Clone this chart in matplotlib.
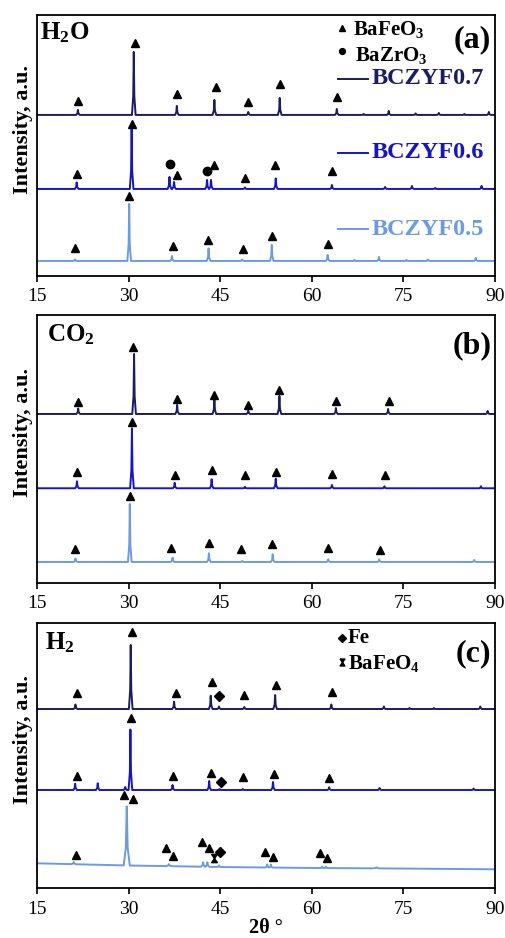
import matplotlib
matplotlib.use("Agg")
import matplotlib.pyplot as plt
import numpy as np
from matplotlib.path import Path

plt.rcParams['font.family'] = ['Liberation Serif', 'DejaVu Serif']
plt.rcParams['mathtext.fontset'] = 'custom'
plt.rcParams['mathtext.rm'] = 'Liberation Serif:bold'
plt.rcParams['mathtext.it'] = 'Liberation Serif:bold:italic'
plt.rcParams['mathtext.bf'] = 'Liberation Serif:bold'

# colours of the three samples
c07 = '#1b1b66'
c06 = '#1414cc'
c05 = '#6b9be6'

# ---- peak lists (2theta, intensity in a.u.) ----
# (a) H2O
h2o_07_pos = [21.7, 30.85, 37.9, 44.05, 49.6, 54.75, 64.1, 68.5, 72.6, 77.0, 80.8, 85.0, 89.0]
h2o_07_int = [5, 63, 9, 15, 3, 17, 6, 1, 4, 1.5, 2, 1, 3]
h2o_06_pos = [21.5, 30.5, 36.7, 37.45, 42.85, 43.5, 49.05, 54.1, 63.3, 72.0, 76.4, 80.2, 87.8]
h2o_06_int = [6.5, 60, 12, 7, 9, 9, 1.5, 10.5, 4, 2, 3, 1, 3]
h2o_05_pos = [21.2, 30.1, 37.1, 43.1, 48.6, 53.45, 62.6, 67.0, 71.0, 75.5, 79.0, 86.85]
h2o_05_int = [1.5, 57, 5, 12.5, 1.5, 16, 6, 1, 4, 1, 1.5, 3]

# (b) CO2
co2_07_pos = [21.75, 30.9, 37.95, 44.05, 49.6, 54.7, 63.95, 72.5, 88.8]
co2_07_int = [5.5, 60, 9, 14.5, 3.3, 18, 6, 5, 3]
co2_06_pos = [21.55, 30.55, 37.55, 43.6, 49.05, 54.1, 63.3, 71.9, 87.7]
co2_06_int = [7, 60, 5.5, 9, 1.5, 9.5, 3.3, 2, 2]
co2_05_pos = [21.3, 30.2, 37.2, 43.15, 48.6, 53.6, 62.7, 71.05, 86.6]
co2_05_int = [3.5, 58, 4.3, 8.7, 1, 7.7, 2.7, 2.5, 2]

# (c) H2
h2_07_pos = [21.3, 30.35, 37.45, 43.45, 44.8, 48.95, 54.0, 63.2, 71.8, 76.0, 80.0, 87.6]
h2_07_int = [4.5, 64, 7.3, 13.3, 2.5, 2, 14, 4.5, 2.5, 1, 1, 2.5]
h2_06_pos = [21.25, 24.95, 29.45, 30.3, 37.2, 43.2, 44.9, 48.7, 53.65, 62.85, 71.1, 86.5]
h2_06_int = [6.3, 6.7, 3, 60.5, 5, 9, 1, 1, 8, 2.7, 2, 1.5]
h2_05_pos = [21.0, 29.7, 36.6, 42.2, 42.9, 44.8, 52.7, 53.3, 61.7, 62.3, 70.6]
h2_05_int = [2, 59, 2, 4.5, 4.5, 1.5, 3, 3, 1.5, 1.5, 1]
h2_05_wid = [0.4, 0.5, 0.5, 0.35, 0.35, 0.3, 0.3, 0.3, 0.3, 0.3, 0.6]
h2_05_base_x = [15, 30, 45, 60, 75, 90]
h2_05_base_y = [24.7, 22.5, 21, 20, 19.5, 18.7]

# vertical offsets of the stacked patterns
offs_a = [161, 87, 15]
offs_b = [169, 94.7, 21]
offs_c = [179, 98]

# ---- phase markers (2theta, height) ----
tri_a_x = [21.66, 31.0, 37.93, 44.3, 49.6, 54.77, 64.15,
           21.5, 30.6, 37.93, 44.05, 49.07, 54.0, 63.27,
           21.3, 30.1, 37.2, 43.05, 48.67, 53.45, 62.6]
tri_a_y = [175, 233, 182, 189, 174, 192, 179,
           101.7, 152, 101, 111.3, 98.3, 110.7, 105.3,
           27.7, 80, 30.3, 36, 26.7, 40.3, 32.3]
circ_a_x = [36.78, 42.9]
circ_a_y = [112, 104.7]

tri_b_x = [21.66, 30.8, 37.93, 44.05, 49.6, 54.7, 63.97, 72.6,
           21.55, 30.56, 37.55, 43.6, 49.07, 54.1, 63.27, 72.06,
           21.3, 30.2, 36.97, 43.17, 48.46, 53.5, 62.7, 71.2]
tri_b_y = [180.7, 236.3, 184, 188.3, 178.3, 193, 182.3, 182.3,
           111.3, 161, 108.3, 113, 108, 111, 108.7, 107.7,
           33.7, 87, 35.3, 40.3, 34, 38.7, 34.7, 33]

tri_c_x = [21.6, 30.56, 37.72, 43.66, 48.96, 54.14, 63.3,
           21.6, 30.4, 37.3, 43.54, 48.8, 53.8, 62.9,
           21.4, 29.25, 30.68, 36.2, 37.27, 41.97, 43.17, 52.4, 53.6, 61.35, 62.5]
tri_c_y = [195.3, 255.7, 194.7, 206, 193.3, 203.3, 196,
           112.3, 169.7, 112, 114.7, 111.3, 113.7, 110.3,
           32.7, 92.7, 89, 39.7, 32.3, 45.7, 39.7, 35.7, 31.3, 35.3, 29.7]
dia_c_x = [44.8, 45.1, 44.97]
dia_c_y = [192, 106.3, 36.3]
hour_c_x = [44.03]
hour_c_y = [29.7]

xticks = [15, 30, 45, 60, 75, 90]

hourglass = Path([(-0.7, 1), (0.7, 1), (-0.7, -1), (0.7, -1), (-0.7, 1)])


def build_trace(pos, inten, base, widths=None):
    """Stick-like peak profiles on a flat or drifting baseline."""
    if widths is None:
        widths = [0.3] * len(pos)
    xs = [15.0]
    ys = [0.0]
    for p, h, w in zip(pos, inten, widths):
        xs += [p - w, p - 0.3 * w, p, p + 0.3 * w, p + w]
        ys += [0, 0.3 * h, h, 0.3 * h, 0]
    xs.append(90.0)
    ys.append(0.0)
    xs = np.array(xs)
    ys = np.array(ys)
    if np.ndim(base) == 0:
        return xs, ys + base
    return xs, ys + np.interp(xs, base[0], base[1])


def style_axes(ax, height):
    ax.set_xlim(15, 90)
    ax.set_ylim(0, height)
    ax.set_xticks(xticks)
    ax.set_yticks([])
    ax.tick_params(axis='x', direction='out', length=4, width=1.2, pad=5, labelsize=14)
    for s in ax.spines.values():
        s.set_linewidth(1.3)
    ax.set_ylabel("Intensity, a.u.", fontsize=16, fontweight='bold')
    ax.yaxis.set_label_coords(-0.008, 0.56)


def tri(ax, x, y):
    ax.plot(x, y, linestyle='none', marker='^', ms=6.3, color='black')


fig = plt.figure(figsize=(5.06, 9.38), dpi=100)
ax_a = fig.add_axes([0.0731, 0.7058, 0.9051, 0.2783])
ax_b = fig.add_axes([0.0731, 0.3785, 0.9051, 0.2857])
ax_c = fig.add_axes([0.0731, 0.0533, 0.9051, 0.2825])

lw = 1.4

# (a) H2O
for pos, inten, off, col in [(h2o_07_pos, h2o_07_int, offs_a[0], c07),
                             (h2o_06_pos, h2o_06_int, offs_a[1], c06),
                             (h2o_05_pos, h2o_05_int, offs_a[2], c05)]:
    x, y = build_trace(pos, inten, off)
    ax_a.plot(x, y, color=col, lw=lw)
tri(ax_a, tri_a_x, tri_a_y)
ax_a.plot(circ_a_x, circ_a_y, linestyle='none', marker='o', ms=6, color='black')
style_axes(ax_a, 261)
ax_a.text(0.007, 0.93, "H$_2$O", transform=ax_a.transAxes, fontsize=18,
          fontweight='bold', ha='left', va='center')
ax_a.text(0.992, 0.905, "(a)", transform=ax_a.transAxes, fontsize=23,
          fontweight='bold', ha='right', va='center')
ax_a.plot([0.665], [0.949], transform=ax_a.transAxes, marker='^', ms=5, color='black')
ax_a.text(0.690, 0.943, "BaFeO$_3$", transform=ax_a.transAxes, fontsize=15,
          fontweight='bold', ha='left', va='center')
ax_a.plot([0.665], [0.863], transform=ax_a.transAxes, marker='o', ms=4.2, color='black')
ax_a.text(0.694, 0.845, "BaZrO$_3$", transform=ax_a.transAxes, fontsize=15,
          fontweight='bold', ha='left', va='center')
for ylab, name, col in [(0.755, "BCZYF0.7", c07), (0.472, "BCZYF0.6", c06),
                        (0.179, "BCZYF0.5", c05)]:
    ax_a.plot([0.657, 0.723], [ylab, ylab], transform=ax_a.transAxes, color=col, lw=lw)
    ax_a.text(0.731, ylab, name, transform=ax_a.transAxes, fontsize=17.5,
              fontweight='bold', color=col, ha='left', va='center')

# (b) CO2
for pos, inten, off, col in [(co2_07_pos, co2_07_int, offs_b[0], c07),
                             (co2_06_pos, co2_06_int, offs_b[1], c06),
                             (co2_05_pos, co2_05_int, offs_b[2], c05)]:
    x, y = build_trace(pos, inten, off)
    ax_b.plot(x, y, color=col, lw=lw)
tri(ax_b, tri_b_x, tri_b_y)
style_axes(ax_b, 268)
ax_b.text(0.022, 0.925, "CO$_2$", transform=ax_b.transAxes, fontsize=18,
          fontweight='bold', ha='left', va='center')
ax_b.text(0.992, 0.885, "(b)", transform=ax_b.transAxes, fontsize=23,
          fontweight='bold', ha='right', va='center')

# (c) H2
x, y = build_trace(h2_07_pos, h2_07_int, offs_c[0])
ax_c.plot(x, y, color=c07, lw=lw)
x, y = build_trace(h2_06_pos, h2_06_int, offs_c[1])
ax_c.plot(x, y, color=c06, lw=lw)
x, y = build_trace(h2_05_pos, h2_05_int, (h2_05_base_x, h2_05_base_y), h2_05_wid)
ax_c.plot(x, y, color=c05, lw=lw)
tri(ax_c, tri_c_x, tri_c_y)
ax_c.plot(dia_c_x, dia_c_y, linestyle='none', marker='D', ms=4.6, color='black')
ax_c.plot(hour_c_x, hour_c_y, linestyle='none', marker=hourglass, ms=6, color='black')
style_axes(ax_c, 265)
ax_c.text(0.017, 0.925, "H$_2$", transform=ax_c.transAxes, fontsize=18,
          fontweight='bold', ha='left', va='center')
ax_c.text(0.992, 0.885, "(c)", transform=ax_c.transAxes, fontsize=23,
          fontweight='bold', ha='right', va='center')
ax_c.plot([0.665], [0.944], transform=ax_c.transAxes, marker='D', ms=3.8, color='black')
ax_c.text(0.679, 0.944, "Fe", transform=ax_c.transAxes, fontsize=15,
          fontweight='bold', ha='left', va='center')
ax_c.plot([0.667], [0.854], transform=ax_c.transAxes, marker=hourglass, ms=5, color='black')
ax_c.text(0.679, 0.849, "BaFeO$_4$", transform=ax_c.transAxes, fontsize=15,
          fontweight='bold', ha='left', va='center')
ax_c.set_xlabel("2θ °", fontsize=14.5, fontweight='bold', labelpad=0)

fig.savefig("out.png", dpi=100)
